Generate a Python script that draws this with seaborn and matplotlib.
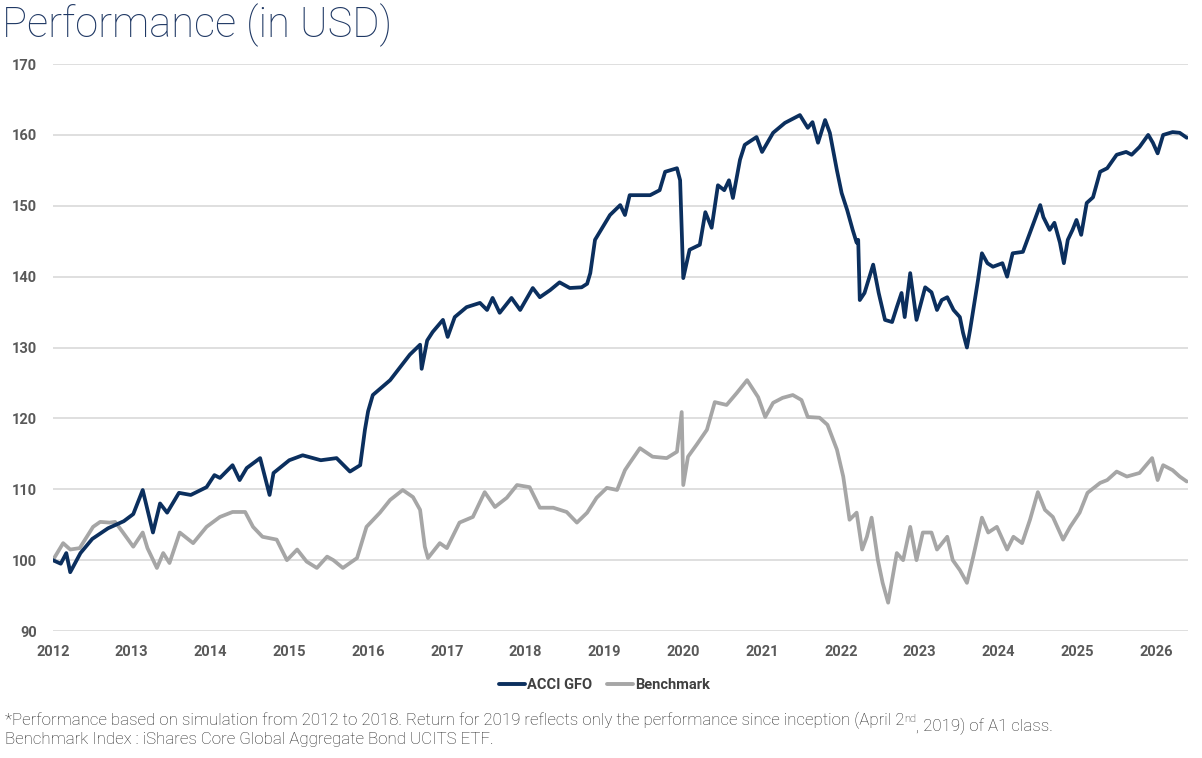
import numpy as np
import pandas as pd
import seaborn as sns
import matplotlib.pyplot as plt
from matplotlib.lines import Line2D

# values (year as decimal, index level)
fund_t = [2012.0, 2012.1, 2012.17, 2012.22, 2012.35, 2012.5, 2012.7, 2012.9, 2013.02, 2013.14,
          2013.27, 2013.36, 2013.45, 2013.6, 2013.75, 2013.95, 2014.05, 2014.12, 2014.28, 2014.37,
          2014.46, 2014.63, 2014.75, 2014.8, 2015.0, 2015.17, 2015.4, 2015.6, 2015.77, 2015.9,
          2015.96, 2016.0, 2016.06, 2016.28, 2016.53, 2016.66, 2016.68, 2016.75, 2016.82, 2016.95,
          2017.01, 2017.10, 2017.25, 2017.42, 2017.51, 2017.58, 2017.67, 2017.82, 2017.93, 2018.09,
          2018.18, 2018.31, 2018.43, 2018.56, 2018.71, 2018.78, 2018.82, 2018.88, 2019.07, 2019.2,
          2019.26, 2019.32, 2019.58, 2019.7, 2019.77, 2019.92, 2019.96, 2020.0, 2020.08, 2020.21,
          2020.28, 2020.36, 2020.44, 2020.52, 2020.58, 2020.63, 2020.72, 2020.78, 2020.93, 2021.0,
          2021.14, 2021.29, 2021.48, 2021.58, 2021.64, 2021.71, 2021.8, 2021.86, 2021.95, 2022.01,
          2022.08, 2022.15, 2022.2, 2022.22, 2022.24, 2022.3, 2022.41, 2022.48, 2022.56, 2022.65,
          2022.71, 2022.77, 2022.81, 2022.88, 2022.96, 2023.07, 2023.15, 2023.22, 2023.28, 2023.35,
          2023.43, 2023.51, 2023.55, 2023.6, 2023.64, 2023.7, 2023.74, 2023.79, 2023.86, 2023.93,
          2024.05, 2024.11, 2024.18, 2024.31, 2024.4, 2024.46, 2024.53, 2024.57, 2024.65, 2024.71,
          2024.78, 2024.83, 2024.88, 2024.94, 2024.99, 2025.05, 2025.12, 2025.2, 2025.29, 2025.38,
          2025.5, 2025.62, 2025.69, 2025.79, 2025.9, 2025.96, 2026.02, 2026.09, 2026.21, 2026.3,
          2026.39]
fund_v = [100.0, 99.5, 101.0, 98.3, 101.0, 103.0, 104.5, 105.5, 106.5, 109.9,
          103.9, 108.0, 106.7, 109.5, 109.2, 110.3, 112.0, 111.6, 113.4, 111.3,
          113.0, 114.4, 109.2, 112.3, 114.1, 114.8, 114.1, 114.4, 112.5, 113.4,
          118.4, 121.0, 123.3, 125.4, 129.0, 130.4, 127.0, 131.0, 132.2, 133.9,
          131.5, 134.3, 135.7, 136.3, 135.3, 137.0, 134.9, 137.0, 135.3, 138.4,
          137.1, 138.1, 139.2, 138.4, 138.5, 139.0, 140.5, 145.2, 148.7, 150.1,
          148.7, 151.5, 151.5, 152.2, 154.8, 155.3, 153.6, 139.8, 143.8, 144.5,
          149.1, 146.9, 152.9, 152.2, 153.6, 151.1, 156.5, 158.6, 159.7, 157.6,
          160.3, 161.7, 162.8, 161.0, 161.8, 158.9, 162.1, 160.3, 155.0, 151.8,
          149.4, 146.6, 144.8, 145.2, 136.7, 137.7, 141.7, 137.7, 133.9, 133.6,
          135.7, 137.7, 134.3, 140.5, 133.9, 138.5, 137.8, 135.3, 136.7, 137.1,
          135.3, 134.3, 132.1, 130.0, 132.5, 136.7, 139.5, 143.3, 141.9, 141.4,
          141.9, 140.0, 143.3, 143.5, 146.2, 148.0, 150.1, 148.4, 146.6, 147.6,
          144.8, 141.9, 145.2, 146.6, 148.0, 145.9, 150.4, 151.2, 154.8, 155.3,
          157.2, 157.6, 157.2, 158.3, 160.0, 158.9, 157.4, 160.0, 160.4, 160.3,
          159.6]

bench_t = [2012.0, 2012.13, 2012.22, 2012.34, 2012.51, 2012.6, 2012.72, 2012.79, 2012.89, 2013.02,
           2013.14, 2013.2, 2013.32, 2013.4, 2013.48, 2013.61, 2013.78, 2013.95, 2014.12, 2014.28,
           2014.44, 2014.54, 2014.66, 2014.84, 2014.97, 2015.1, 2015.22, 2015.35, 2015.48, 2015.56,
           2015.68, 2015.86, 2015.98, 2016.15, 2016.28, 2016.44, 2016.57, 2016.66, 2016.72, 2016.76,
           2016.91, 2017.0, 2017.16, 2017.33, 2017.48, 2017.61, 2017.76, 2017.89, 2018.05, 2018.18,
           2018.35, 2018.52, 2018.65, 2018.78, 2018.9, 2019.03, 2019.16, 2019.26, 2019.32, 2019.45,
           2019.61, 2019.79, 2019.92, 2019.98, 2020.0, 2020.06, 2020.17, 2020.3, 2020.4, 2020.55,
           2020.68, 2020.81, 2020.95, 2021.04, 2021.14, 2021.26, 2021.39, 2021.5, 2021.58, 2021.73,
           2021.83, 2021.95, 2022.03, 2022.11, 2022.2, 2022.27, 2022.33, 2022.39, 2022.47, 2022.53,
           2022.6, 2022.65, 2022.71, 2022.79, 2022.88, 2022.96, 2023.04, 2023.15, 2023.22, 2023.35,
           2023.42, 2023.51, 2023.6, 2023.68, 2023.79, 2023.87, 2023.98, 2024.11, 2024.19, 2024.3,
           2024.4, 2024.5, 2024.59, 2024.69, 2024.82, 2024.91, 2025.03, 2025.13, 2025.29, 2025.38,
           2025.5, 2025.63, 2025.79, 2025.95, 2026.02, 2026.09, 2026.21, 2026.3, 2026.39]
bench_v = [100.0, 102.4, 101.5, 101.7, 104.7, 105.4, 105.3, 105.4, 103.9, 101.9,
           103.9, 101.7, 98.9, 101.0, 99.6, 103.9, 102.4, 104.7, 106.1, 106.8,
           106.8, 104.7, 103.3, 102.9, 100.0, 101.5, 99.8, 98.9, 100.5, 100.0,
           98.9, 100.3, 104.7, 106.7, 108.5, 109.9, 108.9, 107.1, 101.9, 100.3,
           102.4, 101.7, 105.3, 106.1, 109.6, 107.5, 108.8, 110.6, 110.3, 107.4,
           107.4, 106.8, 105.3, 106.7, 108.8, 110.2, 109.9, 112.7, 113.7, 115.8,
           114.6, 114.4, 115.3, 120.9, 110.6, 114.6, 116.3, 118.4, 122.3, 121.9,
           123.6, 125.4, 123.0, 120.2, 122.2, 122.9, 123.3, 122.6, 120.2, 120.1,
           119.1, 115.6, 111.8, 105.7, 106.7, 101.5, 103.3, 106.0, 100.0, 96.8,
           94.0, 97.2, 101.0, 100.0, 104.7, 100.0, 103.9, 103.9, 101.5, 103.3,
           100.0, 98.6, 96.8, 100.5, 106.0, 103.9, 104.7, 101.5, 103.3, 102.4,
           105.7, 109.6, 107.1, 106.1, 102.9, 104.7, 106.7, 109.5, 110.9, 111.3,
           112.5, 111.8, 112.3, 114.4, 111.3, 113.4, 112.7, 111.8, 111.1]

series_names = ['ACCI GFO', 'Benchmark']
series_colors = ['#0B2F5E', '#A6A6A6']
years = list(range(2012, 2027))

df = pd.concat([
    pd.DataFrame({'year': fund_t, 'value': fund_v, 'series': series_names[0]}),
    pd.DataFrame({'year': bench_t, 'value': bench_v, 'series': series_names[1]}),
])

sns.set_theme(style='white')
plt.rcParams['font.family'] = ['Roboto', 'DejaVu Sans']

fig = plt.figure(figsize=(12.02, 7.58), dpi=100)
ax = fig.add_axes([0.044, 0.1675, 0.944, 0.748])

sns.lineplot(data=df, x='year', y='value', hue='series', hue_order=series_names[::-1],
             palette=dict(zip(series_names, series_colors)), linewidth=2.7,
             estimator=None, sort=False, legend=False, ax=ax)

ax.set_xlim(2012, 2026.4)
ax.set_ylim(90, 170)
ax.set_yticks(range(90, 171, 10))
ax.set_xticks(years)
ax.set_xticklabels([str(y) for y in years])
ax.grid(axis='y', color='#D9D9D9', linewidth=1.2)
ax.grid(axis='x', visible=False)
ax.set_axisbelow(True)
for s in ax.spines.values():
    s.set_visible(False)
ax.set_xlabel('')
ax.set_ylabel('')
ax.tick_params(axis='both', length=0, labelsize=10.5, labelcolor='#595959')
ax.tick_params(axis='y', pad=11.5)
ax.tick_params(axis='x', pad=10)
for lab in ax.get_xticklabels() + ax.get_yticklabels():
    lab.set_fontweight('bold')

handles = [Line2D([], [], color=c, linewidth=2.8) for c in series_colors]
leg = fig.legend(handles, series_names, loc='center', bbox_to_anchor=(0.503, 0.096), ncol=2,
                 frameon=False, handlelength=1.8, handletextpad=0.15, columnspacing=1.0,
                 prop={'weight': 'bold', 'size': 10.5})
for t in leg.get_texts():
    t.set_color('#404040')

fig.text(0.002, 0.996, 'Performance (in USD)', ha='left', va='top', fontsize=30,
         fontweight='light', color='#1F3864')

note_kw = dict(fontsize=12.2, color='#262626', fontweight='light')
t1 = fig.text(0.004, 0.0435, '*Performance based on simulation from 2012 to 2018. Return for 2019 '
              'reflects only the performance since inception (April 2', ha='left', va='baseline', **note_kw)
sup = ax.annotate('nd', xy=(1, 0), xycoords=t1, xytext=(0, 5), textcoords='offset points',
                  ha='left', va='baseline', fontsize=8, color='#262626', fontweight='light',
                  annotation_clip=False)
ax.annotate(', 2019) of A1 class.', xy=(1, 0), xycoords=sup, xytext=(0, -5),
            textcoords='offset points', ha='left', va='baseline', annotation_clip=False, **note_kw)
fig.text(0.004, 0.018, 'Benchmark Index : iShares Core Global Aggregate Bond UCITS ETF.',
         ha='left', va='baseline', **note_kw)

fig.savefig('out.png', dpi=100, facecolor='white')
